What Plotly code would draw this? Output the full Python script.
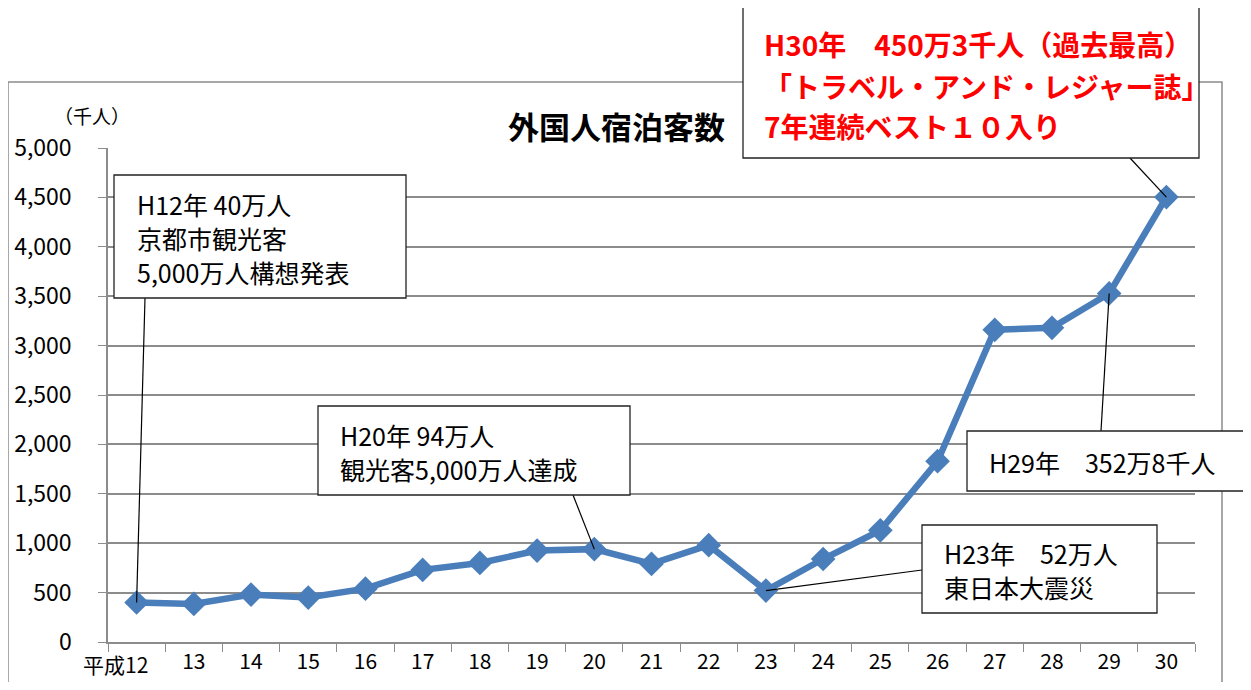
import plotly.graph_objects as go

# ── Data ───────────────────────────────────────────────────────────────
years = ["平成12", "13", "14", "15", "16", "17", "18", "19", "20", "21",
         "22", "23", "24", "25", "26", "27", "28", "29", "30"]
guests = [400, 385, 480, 450, 540, 730, 800, 925, 940, 790,
          980, 520, 840, 1130, 1830, 3160, 3180, 3528, 4503]
y_ticks = [0, 500, 1000, 1500, 2000, 2500, 3000, 3500, 4000, 4500, 5000]

FONT = "Noto Sans CJK JP"
GRAY = "#8c8c8c"
BLUE = "#4a7ebb"

# page body has an 8px margin, so the figure is sized to sit inside it
OFF = 8
FIG_W, FIG_H = 1251 - 2 * OFF, 690 - 2 * OFF
# plot area in window pixels
PX0, PX1, PY0, PY1 = 108, 1195, 148, 642
PW, PH = PX1 - PX0, PY1 - PY0


def paper_x(px):
    return (px - PX0) / PW


def paper_y(py):
    return (PY1 - py) / PH


def data_x(px):
    return (px - PX0) / (PW / len(years)) - 0.5


def data_y(py):
    return (PY1 - py) / PH * y_ticks[-1]


# ── Trace ──────────────────────────────────────────────────────────────
fig = go.Figure(go.Scatter(
    x=years,
    y=guests,
    mode="lines+markers",
    line=dict(color=BLUE, width=6.5),
    marker=dict(symbol="diamond", size=19, color=BLUE),
    hoverinfo="x+y",
))

# ── Callouts: box (l, t, r, b), text left, line centres, lines, point idx, connector start, colour, size, bold
callouts = [
    ((114, 175, 406, 298), 135, [204, 238, 272],
     ["H12年 40万人", "京都市観光客", "5,000万人構想発表"], 0, (145, 298), "black", 25, False),
    ((318, 406, 630, 495), 338, [435, 469],
     ["H20年 94万人", "観光客5,000万人達成"], 8, (573, 495), "black", 25, False),
    ((922, 525, 1157, 613), 942, [553, 587],
     ["H23年　52万人", "東日本大震災"], 11, (922, 570), "black", 25, False),
    ((967, 431, 1260, 491), 987, [462],
     ["H29年　352万8千人"], 17, (1101, 431), "black", 25, False),
    ((743, 6, 1199, 158), 762, [44, 86, 126],
     ["H30年　450万3千人（過去最高）", "「トラベル・アンド・レジャー誌」", "7年連続ベスト１０入り"],
     18, (1130, 158), "#ff0000", 28, True),
]

shapes = [
    # outer chart frame
    dict(type="rect", xref="paper", yref="paper",
         x0=paper_x(8), x1=paper_x(1222), y0=paper_y(720), y1=paper_y(82),
         line=dict(color=GRAY, width=1.5), fillcolor="rgba(0,0,0,0)", layer="below"),
]
annotations = [
    dict(text="外国人宿泊客数", xref="paper", yref="paper", x=paper_x(616), y=paper_y(125),
         xanchor="center", yanchor="middle", showarrow=False,
         font=dict(family=FONT, size=31, color="black", weight="bold")),
    dict(text="（千人）", xref="paper", yref="paper", x=paper_x(92), y=paper_y(115),
         xanchor="center", yanchor="middle", showarrow=False,
         font=dict(family=FONT, size=19, color="black")),
    # first category label sits a little left of its slot, as in the original
    dict(text=years[0], xref="x", yref="paper", x=years[0], y=0, yshift=-5,
         xshift=-21, xanchor="center", yanchor="top", showarrow=False,
         font=dict(family=FONT, size=21, color="black")),
]

for box, tx, ys, lines, idx, conn, color, size, bold in callouts:
    l, t, r, b = box
    shapes.append(dict(type="line", xref="x", yref="y",
                       x0=data_x(conn[0]), y0=data_y(conn[1]), x1=idx, y1=guests[idx],
                       line=dict(color="black", width=1.2), layer="above"))
    shapes.append(dict(type="rect", xref="paper", yref="paper",
                       x0=paper_x(l), x1=paper_x(r), y0=paper_y(b), y1=paper_y(t),
                       line=dict(color="#222222", width=1.3), fillcolor="white", layer="above"))
    for ly, txt in zip(ys, lines):
        annotations.append(dict(
            text=txt, xref="paper", yref="paper", x=paper_x(tx), y=paper_y(ly),
            xanchor="left", yanchor="middle", showarrow=False,
            font=dict(family=FONT, size=size, color=color, weight="bold" if bold else "normal"),
        ))

tick_text = [""] + years[1:]

fig.update_layout(
    width=FIG_W,
    height=FIG_H,
    paper_bgcolor="white",
    plot_bgcolor="white",
    showlegend=False,
    margin=dict(l=PX0 - OFF, r=FIG_W - (PX1 - OFF), t=PY0 - OFF, b=FIG_H - (PY1 - OFF)),
    font=dict(family=FONT, color="black"),
    xaxis=dict(
        type="category",
        range=[-0.5, len(years) - 0.5],
        tickvals=years,
        ticktext=tick_text,
        tickangle=0,
        tickson="boundaries",
        ticks="outside",
        ticklen=8,
        tickcolor=GRAY,
        showline=True,
        linecolor=GRAY,
        linewidth=1.5,
        showgrid=False,
        automargin=False,
        tickfont=dict(size=21, family=FONT),
    ),
    yaxis=dict(
        range=[0, 5000],
        tickvals=y_ticks,
        tickformat=",d",
        ticks="outside",
        ticklen=8,
        tickcolor=GRAY,
        ticklabelstandoff=22,
        showline=True,
        linecolor=GRAY,
        linewidth=1.5,
        showgrid=True,
        gridcolor=GRAY,
        gridwidth=1.5,
        zeroline=False,
        automargin=False,
        tickfont=dict(size=23, family=FONT),
    ),
    shapes=shapes,
    annotations=annotations,
)

fig.write_html("out.html")
